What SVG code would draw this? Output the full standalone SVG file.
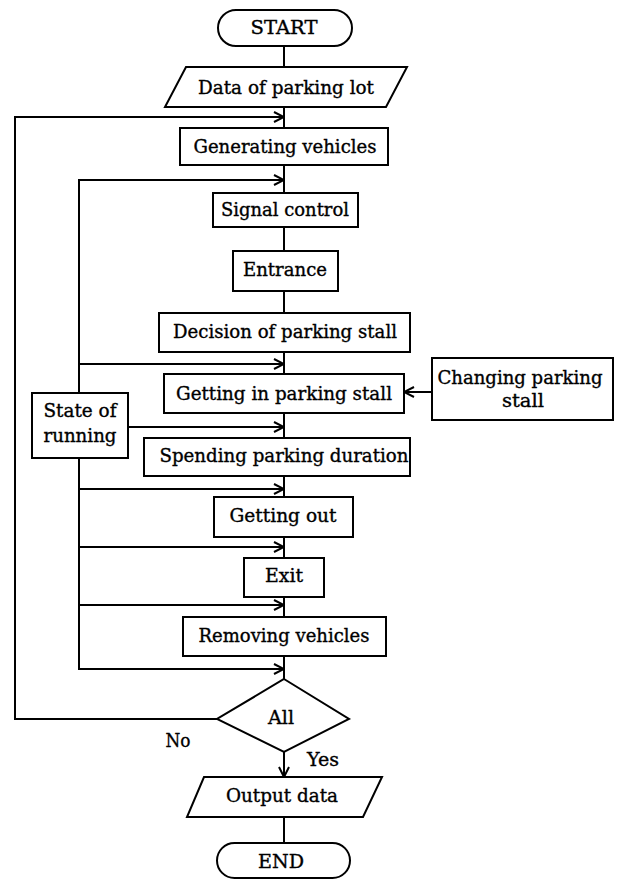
<svg xmlns="http://www.w3.org/2000/svg" width="618" height="883" viewBox="0 0 618 883">
<style>
.s{fill:#fff;stroke:#000;stroke-width:2}
.c{fill:none;stroke:#000;stroke-width:2}
text{font-family:"DejaVu Serif","Liberation Serif",serif;font-size:18px;fill:#000;stroke:#000;stroke-width:0.35;text-anchor:middle}
</style>
<defs>
<marker id="a" viewBox="0 0 12 12" refX="11" refY="6" markerWidth="12" markerHeight="12" orient="auto" markerUnits="userSpaceOnUse">
<path d="M1,1 L11,6 L1,11" fill="none" stroke="#000" stroke-width="2"/>
</marker>
</defs>
<rect width="618" height="883" fill="#fff"/>
<g id="connectors">
<path class="c" d="M284,46 V67"/>
<path class="c" d="M284,107 V128"/>
<path class="c" d="M284,165 V193"/>
<path class="c" d="M284,227 V251"/>
<path class="c" d="M284,291 V313"/>
<path class="c" d="M284,352 V374"/>
<path class="c" d="M284,413 V438"/>
<path class="c" d="M284,476 V497"/>
<path class="c" d="M284,537 V558"/>
<path class="c" d="M284,597 V617"/>
<path class="c" d="M284,656 V679"/>
<path class="c" d="M284,752 V777" marker-end="url(#a)"/>
<path class="c" d="M284,817 V843"/>
<path class="c" d="M217,719 H15 V117 H284" marker-end="url(#a)"/>
<path class="c" d="M79,393 V180 H284" marker-end="url(#a)"/>
<path class="c" d="M79,364 H284" marker-end="url(#a)"/>
<path class="c" d="M128,427 H284" marker-end="url(#a)"/>
<path class="c" d="M79,458 V669 H284" marker-end="url(#a)"/>
<path class="c" d="M79,489 H284" marker-end="url(#a)"/>
<path class="c" d="M79,547 H284" marker-end="url(#a)"/>
<path class="c" d="M79,605 H284" marker-end="url(#a)"/>
<path class="c" d="M432,392 H404" marker-end="url(#a)"/>
</g>
<g id="start"><rect class="s" x="218" y="10" width="134" height="36" rx="18"/><text x="284" y="34" textLength="67" lengthAdjust="spacingAndGlyphs">START</text></g>
<g id="data"><polygon class="s" points="186,67 407,67 386,107 165,107"/><text x="286" y="94" textLength="176" lengthAdjust="spacingAndGlyphs">Data of parking lot</text></g>
<g id="generating"><rect class="s" x="180" y="128" width="208" height="37"/><text x="285" y="153" textLength="183" lengthAdjust="spacingAndGlyphs">Generating vehicles</text></g>
<g id="signal"><rect class="s" x="213" y="193" width="145" height="34"/><text x="285" y="216" textLength="128" lengthAdjust="spacingAndGlyphs">Signal control</text></g>
<g id="entrance"><rect class="s" x="233" y="251" width="105" height="40"/><text x="285" y="276" textLength="84" lengthAdjust="spacingAndGlyphs">Entrance</text></g>
<g id="decision"><rect class="s" x="159" y="313" width="251" height="39"/><text x="285" y="338" textLength="224" lengthAdjust="spacingAndGlyphs">Decision of parking stall</text></g>
<g id="gettingin"><rect class="s" x="164" y="374" width="240" height="39"/><text x="284" y="400" textLength="216" lengthAdjust="spacingAndGlyphs">Getting in parking stall</text></g>
<g id="changing"><rect class="s" x="432" y="358" width="181" height="62"/><text x="520" y="384" textLength="165" lengthAdjust="spacingAndGlyphs">Changing parking</text><text x="523" y="407" textLength="42" lengthAdjust="spacingAndGlyphs">stall</text></g>
<g id="state"><rect class="s" x="32" y="393" width="96" height="65"/><text x="80" y="417" textLength="73" lengthAdjust="spacingAndGlyphs">State of</text><text x="80" y="442" textLength="73" lengthAdjust="spacingAndGlyphs">running</text></g>
<g id="spending"><rect class="s" x="144" y="438" width="266" height="38"/><text x="284" y="462" textLength="249" lengthAdjust="spacingAndGlyphs">Spending parking duration</text></g>
<g id="gettingout"><rect class="s" x="214" y="497" width="139" height="40"/><text x="283" y="522" textLength="107" lengthAdjust="spacingAndGlyphs">Getting out</text></g>
<g id="exit"><rect class="s" x="244" y="558" width="80" height="39"/><text x="284" y="582" textLength="38" lengthAdjust="spacingAndGlyphs">Exit</text></g>
<g id="removing"><rect class="s" x="183" y="617" width="203" height="39"/><text x="284" y="642" textLength="171" lengthAdjust="spacingAndGlyphs">Removing vehicles</text></g>
<g id="all"><polygon class="s" points="284,679 349,719 284,752 217,719"/><text x="281" y="724" textLength="26" lengthAdjust="spacingAndGlyphs">All</text></g>
<g id="labels"><text x="178" y="747" textLength="25" lengthAdjust="spacingAndGlyphs">No</text><text x="323" y="766" textLength="32" lengthAdjust="spacingAndGlyphs">Yes</text></g>
<g id="output"><polygon class="s" points="204,777 382,777 363,817 187,817"/><text x="282" y="802" textLength="112" lengthAdjust="spacingAndGlyphs">Output data</text></g>
<g id="end"><rect class="s" x="217" y="843" width="133" height="35" rx="17.5"/><text x="281" y="868" textLength="46" lengthAdjust="spacingAndGlyphs">END</text></g>
</svg>
